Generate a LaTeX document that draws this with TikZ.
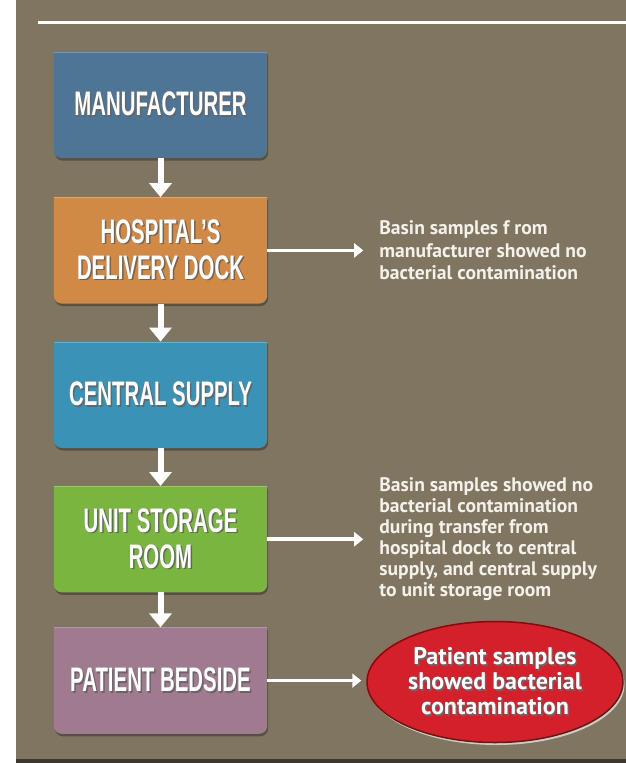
\documentclass[tikz,border=0pt]{standalone}
\usepackage{fontspec}
\usepackage{tikz}
\usetikzlibrary{arrows.meta,positioning,backgrounds,shapes.geometric}
\setmainfont{PT Sans}
\newfontfamily\stepfont[FakeStretch=0.6]{Liberation Sans}
\definecolor{panel}{HTML}{7F7560}
\definecolor{panelrim}{HTML}{3B3731}
\definecolor{mfrblue}{HTML}{4F7596}
\definecolor{dockorange}{HTML}{D18A45}
\definecolor{supplyblue}{HTML}{3A93B6}
\definecolor{roomgreen}{HTML}{7AB540}
\definecolor{bedmauve}{HTML}{A07A8E}
\definecolor{alertred}{HTML}{D3202B}
\definecolor{alertedge}{HTML}{7A0F12}
\definecolor{alerthalo}{HTML}{CFCBC2}
\definecolor{notewhite}{HTML}{F4F1EA}
\newcommand{\shadowtext}[1]{\leavevmode\rlap{\kern1.5pt\raisebox{-1.5pt}{\textcolor{black!60}{#1}}}#1}

\begin{document}
\begin{tikzpicture}[x=1pt,y=-1pt,
  stepbox/.style={minimum width=213pt,minimum height=106pt,inner sep=0pt,text=white,align=center,
    font=\stepfont\bfseries\fontsize{34}{36}\selectfont},
  note/.style={inner sep=0pt,align=left,text=notewhite,font=\bfseries\fontsize{19.6}{22.5}\selectfont},
  alert/.style={ellipse,fill=alertred,draw=alertedge,line width=1.5pt,minimum width=256pt,minimum height=121pt,
    inner sep=0pt,text=white,align=center,font=\bfseries\fontsize{24}{25}\selectfont,
    preaction={fill=alerthalo,transform canvas={shift={(1.5pt,-2.5pt)}}}},
  godown/.style={white,line width=6pt,-{Triangle[width=22pt,length=14pt]}},
  goright/.style={white,line width=3.5pt,-{Triangle[width=14pt,length=9pt]}}]
\useasboundingbox (0,0) rectangle (626,763);
\node[stepbox] (mfr) at (160.5,105) {\shadowtext{MANUFACTURER}};
\node[stepbox,below=39pt of mfr] (dock) {\shadowtext{HOSPITAL’S}\\\shadowtext{DELIVERY DOCK}};
\node[stepbox,below=38pt of dock] (supply) {\shadowtext{CENTRAL SUPPLY}};
\node[stepbox,below=38pt of supply] (room) {\shadowtext{UNIT STORAGE}\\\shadowtext{ROOM}};
\node[stepbox,below=35pt of room] (bed) {\shadowtext{PATIENT BEDSIDE}};
\node[note,right=112pt of dock] (nodock) {Basin samples f rom\\manufacturer showed no\\bacterial contamination};
\node[note,right=112pt of room,font=\bfseries\fontsize{19.6}{21}\selectfont] (noroom) {Basin samples showed no\\bacterial contamination\\during transfer from\\hospital dock to central\\supply, and central supply\\to unit storage room};
\node[alert] (result) at (495,682) {\shadowtext{Patient samples}\\\shadowtext{showed bacterial}\\\shadowtext{contamination}};
\foreach \a/\b in {mfr/dock,dock/supply,supply/room,room/bed} \draw[godown] (\a) -- (\b);
\draw[goright,shorten >=16pt] (dock.east) -- (nodock.west);
\draw[goright,shorten >=16pt] (room.east) -- (noroom.west);
\draw[goright,shorten >=5pt] (bed.east) -- (bed.east -| result.west);
\begin{scope}[on background layer]
\fill[panel] (16,0) rectangle (626,760);
\fill[panelrim] (16,759) rectangle (626,763);
\draw[white,line width=3pt] (38,22.5) -- (626,22.5);
\foreach \n/\c in {mfr/mfrblue,dock/dockorange,supply/supplyblue,room/roomgreen,bed/bedmauve}{
  \fill[black,opacity=.3,transform canvas={shift={(1pt,-2.5pt)}}] (\n.north west) -- (\n.north east) {[rounded corners=8pt] -- (\n.south east) -- (\n.south west)} -- cycle;
  \fill[\c] (\n.north west) -- (\n.north east) {[rounded corners=8pt] -- (\n.south east) -- (\n.south west)} -- cycle;
  \draw[white,opacity=.25,line width=1pt] ([yshift=-.5pt]\n.north west) -- ([yshift=-.5pt]\n.north east);
}
\end{scope}
\end{tikzpicture}
\end{document}
